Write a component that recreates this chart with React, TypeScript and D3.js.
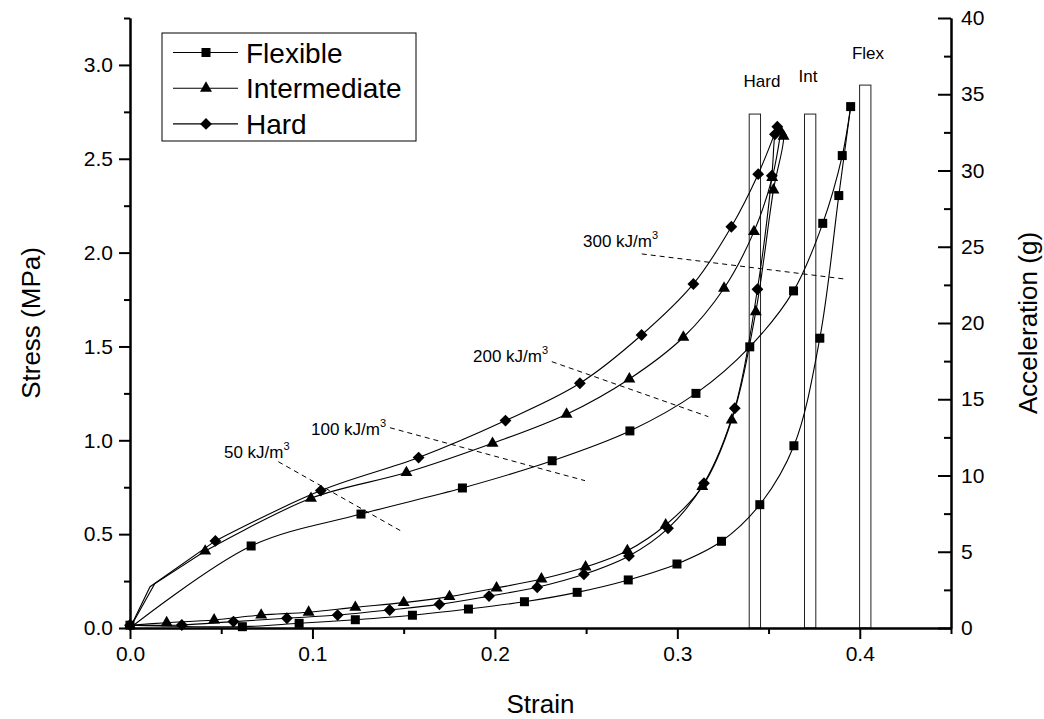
import React, { useEffect, useRef } from 'react';
import * as d3 from 'd3';

type Pt = [number, number];

// strain, stress (MPa). knee points are line vertices with no marker
const flexKnee: Pt[] = [[0, 0]];
const flexLoad: Pt[] = [
  [0.0664, 0.437], [0.1266, 0.607], [0.1822, 0.746], [0.2314, 0.891], [0.274, 1.05],
  [0.3102, 1.25], [0.3397, 1.498], [0.3637, 1.796], [0.3797, 2.156], [0.3904, 2.517], [0.395, 2.778],
];
const flexUnload: Pt[] = [
  [0.3885, 2.304], [0.3781, 1.544], [0.3639, 0.971], [0.3452, 0.657], [0.3242, 0.462],
  [0.2998, 0.341], [0.2731, 0.256], [0.2451, 0.19], [0.2162, 0.14], [0.1855, 0.101],
  [0.1548, 0.068], [0.1235, 0.044], [0.0927, 0.025], [0.0616, 0.007], [0, 0.015],
];

const intKnee: Pt[] = [[0, 0], [0.0135, 0.235]];
const intLoad: Pt[] = [
  [0.0412, 0.41], [0.0992, 0.691], [0.1515, 0.828], [0.1987, 0.984], [0.2393, 1.139],
  [0.2737, 1.327], [0.3033, 1.549], [0.3256, 1.81], [0.342, 2.112], [0.352, 2.4], [0.3567, 2.645],
];
const intUnload: Pt[] = [
  [0.3582, 2.62], [0.3527, 2.334], [0.343, 1.685], [0.3298, 1.108], [0.3137, 0.753],
  [0.2936, 0.549], [0.2726, 0.412], [0.2497, 0.325], [0.2255, 0.261], [0.2009, 0.213],
  [0.1751, 0.167], [0.15, 0.135], [0.1235, 0.11], [0.0979, 0.084], [0.0719, 0.069],
  [0.0461, 0.043], [0.0201, 0.028], [0, 0.015],
];

const hardKnee: Pt[] = [[0, 0], [0.011, 0.22]];
const hardLoad: Pt[] = [
  [0.0468, 0.464], [0.1046, 0.732], [0.1582, 0.908], [0.2058, 1.105], [0.2466, 1.304],
  [0.2804, 1.561], [0.3088, 1.833], [0.3296, 2.138], [0.3443, 2.418], [0.3548, 2.671],
];
const hardUnload: Pt[] = [
  [0.3535, 2.63], [0.3518, 2.41], [0.3439, 1.805], [0.3315, 1.171], [0.3146, 0.771],
  [0.2949, 0.531], [0.2735, 0.384], [0.2488, 0.286], [0.2232, 0.217], [0.1968, 0.17],
  [0.1696, 0.126], [0.1423, 0.096], [0.1138, 0.069], [0.086, 0.052], [0.0567, 0.034],
  [0.0284, 0.016], [0, 0.015],
];

const seriesNames = ['Flexible', 'Intermediate', 'Hard'];

// peak acceleration bars (g)
const peakLabels = ['Hard', 'Int', 'Flex'];
const peakStrain = [0.3425, 0.3728, 0.403];
const peakAccel = [33.7, 33.7, 35.6];
const peakLabelStrain = [0.3464, 0.3716, 0.4045];
const peakLabelAccel = [35.5, 35.8, 37.3];

// iso-energy guide lines
const energyLabels = ['50', '100', '200', '300'];
const energyFrom: Pt[] = [[0.0813, 0.886], [0.1425, 1.067], [0.2312, 1.419], [0.2805, 1.993]];
const energyTo: Pt[] = [[0.1498, 0.51], [0.2494, 0.785], [0.317, 1.126], [0.3928, 1.858]];
const energyLabelAt: Pt[] = [[0.0515, 0.906], [0.0992, 1.028], [0.188, 1.417], [0.2483, 2.03]];

const stressTicks = [0, 0.5, 1, 1.5, 2, 2.5, 3];
const stressMinor = [0.25, 0.75, 1.25, 1.75, 2.25, 2.75, 3.25];
const accelTicks = [0, 5, 10, 15, 20, 25, 30, 35, 40];
const accelMinor = [2.5, 7.5, 12.5, 17.5, 22.5, 27.5, 32.5, 37.5];
const strainTicks = [0, 0.1, 0.2, 0.3, 0.4];
const strainMinor = [0.05, 0.15, 0.25, 0.35, 0.45];

const W = 1044;
const H = 719;
const FONT = 'Arial, "Liberation Sans", sans-serif';

const App = () => {
  const svgRef = useRef<SVGSVGElement>(null);

  useEffect(() => {
    const svg = d3.select(svgRef.current);
    svg.selectAll('*').remove();

    const left = 130, right = 951, bottom = 628, top = 18;
    const x = d3.scaleLinear().domain([0, 0.45]).range([left, right]);
    const y = d3.scaleLinear().domain([0, 3.25]).range([bottom, top]);
    const y2 = d3.scaleLinear().domain([0, 40]).range([bottom, top]);

    // peak acceleration bars
    const barW = 0.0062;
    svg.append('g').selectAll('rect')
      .data(peakLabels)
      .join('rect')
      .attr('x', (d, i) => x(peakStrain[i] - barW / 2))
      .attr('width', x(barW) - x(0))
      .attr('y', (d, i) => y2(peakAccel[i]))
      .attr('height', (d, i) => y2(0) - y2(peakAccel[i]))
      .attr('fill', 'none')
      .attr('stroke', '#222')
      .attr('stroke-width', 1);

    svg.append('g').selectAll('text')
      .data(peakLabels)
      .join('text')
      .attr('x', (d, i) => x(peakLabelStrain[i]))
      .attr('y', (d, i) => y2(peakLabelAccel[i]))
      .attr('text-anchor', 'middle')
      .attr('font-family', FONT)
      .attr('font-size', 17)
      .text(d => d);

    // dashed energy lines
    const eg = svg.append('g');
    energyLabels.forEach((lab, i) => {
      eg.append('line')
        .attr('x1', x(energyFrom[i][0])).attr('y1', y(energyFrom[i][1]))
        .attr('x2', x(energyTo[i][0])).attr('y2', y(energyTo[i][1]))
        .attr('stroke', '#000').attr('stroke-width', 1)
        .attr('stroke-dasharray', '5,4');
      const t = eg.append('text')
        .attr('x', x(energyLabelAt[i][0]))
        .attr('y', y(energyLabelAt[i][1]))
        .attr('font-family', FONT)
        .attr('font-size', 17);
      t.append('tspan').text(`${lab} kJ/m`);
      t.append('tspan').attr('dy', -8).attr('font-size', 11).text('3');
    });

    // curves
    const line = d3.line<Pt>()
      .x(d => x(d[0]))
      .y(d => y(d[1]))
      .curve(d3.curveCatmullRom.alpha(0.5));
    const straight = d3.line<Pt>()
      .x(d => x(d[0]))
      .y(d => y(d[1]));

    const squareSym = d3.symbol().type(d3.symbolSquare).size(81)();
    const triSym = d3.symbol().type(d3.symbolTriangle).size(62)();
    const diamondSym = d3.symbol().type(d3.symbolSquare).size(70)();
    const symbols = [squareSym, triSym, diamondSym];
    const rotations = [0, 0, 45];

    const series = [
      { knee: flexKnee, load: flexLoad, unload: flexUnload },
      { knee: intKnee, load: intLoad, unload: intUnload },
      { knee: hardKnee, load: hardLoad, unload: hardUnload },
    ];

    const cg = svg.append('g');
    series.forEach((s, k) => {
      const peak = s.load[s.load.length - 1];
      const kneePath = s.knee.length > 1 ? [...s.knee, s.load[0]] : null;
      if (kneePath) {
        cg.append('path')
          .datum(kneePath)
          .attr('d', straight)
          .attr('fill', 'none').attr('stroke', '#000').attr('stroke-width', 1.1);
      }
      cg.append('path')
        .datum(kneePath ? s.load : [...s.knee, ...s.load])
        .attr('d', line)
        .attr('fill', 'none').attr('stroke', '#000').attr('stroke-width', 1.1);
      cg.append('path')
        .datum([peak, ...s.unload])
        .attr('d', line)
        .attr('fill', 'none').attr('stroke', '#000').attr('stroke-width', 1.1);
      cg.append('g').selectAll('path')
        .data([...s.load, ...s.unload])
        .join('path')
        .attr('d', symbols[k])
        .attr('transform', d => `translate(${x(d[0])},${y(d[1])}) rotate(${rotations[k]})`)
        .attr('fill', '#000');
    });

    // axes
    const styleAxis = (g: d3.Selection<SVGGElement, unknown, null, undefined>) => {
      g.selectAll('.domain').attr('stroke', '#000').attr('stroke-width', 2);
      g.selectAll('.tick line').attr('stroke', '#000').attr('stroke-width', 2);
      g.selectAll('text').attr('font-family', FONT).attr('font-size', 21).attr('fill', '#000');
    };

    const ax = svg.append('g').attr('transform', `translate(0,${bottom})`);
    ax.call(d3.axisBottom(x).tickValues(strainTicks).tickFormat(d3.format('.1f')).tickSize(11).tickSizeOuter(0).tickPadding(7));
    styleAxis(ax);
    const axm = svg.append('g').attr('transform', `translate(0,${bottom})`);
    axm.call(d3.axisBottom(x).tickValues(strainMinor).tickFormat(() => '').tickSize(6).tickSizeOuter(0));
    styleAxis(axm);

    const ay = svg.append('g').attr('transform', `translate(${left},0)`);
    ay.call(d3.axisLeft(y).tickValues(stressTicks).tickFormat(d3.format('.1f')).tickSize(11).tickSizeOuter(0).tickPadding(6));
    styleAxis(ay);
    const aym = svg.append('g').attr('transform', `translate(${left},0)`);
    aym.call(d3.axisLeft(y).tickValues(stressMinor).tickFormat(() => '').tickSize(6).tickSizeOuter(0));
    styleAxis(aym);

    const ar = svg.append('g').attr('transform', `translate(${right},0)`);
    ar.call(d3.axisRight(y2).tickValues(accelTicks).tickFormat(d3.format('d')).tickSize(-13).tickSizeOuter(0).tickPadding(10));
    styleAxis(ar);
    const arm = svg.append('g').attr('transform', `translate(${right},0)`);
    arm.call(d3.axisRight(y2).tickValues(accelMinor).tickFormat(() => '').tickSize(-7).tickSizeOuter(0));
    styleAxis(arm);

    // axis titles
    svg.append('text')
      .attr('x', (left + right) / 2).attr('y', 713)
      .attr('text-anchor', 'middle')
      .attr('font-family', FONT).attr('font-size', 26)
      .text('Strain');
    svg.append('text')
      .attr('transform', `translate(40,${(top + bottom) / 2}) rotate(-90)`)
      .attr('text-anchor', 'middle')
      .attr('font-family', FONT).attr('font-size', 26)
      .text('Stress (MPa)');
    svg.append('text')
      .attr('transform', `translate(1037,${(top + bottom) / 2}) rotate(-90)`)
      .attr('text-anchor', 'middle')
      .attr('font-family', FONT).attr('font-size', 26)
      .text('Acceleration (g)');

    // legend
    const lg = svg.append('g');
    lg.append('rect')
      .attr('x', 162).attr('y', 33).attr('width', 254).attr('height', 108)
      .attr('fill', '#fff').attr('stroke', '#000').attr('stroke-width', 1);
    seriesNames.forEach((name, i) => {
      const ry = 52.5 + i * 35.7;
      lg.append('line')
        .attr('x1', 173).attr('x2', 238).attr('y1', ry).attr('y2', ry)
        .attr('stroke', '#000').attr('stroke-width', 1.1);
      lg.append('path')
        .attr('d', symbols[i])
        .attr('transform', `translate(206,${ry}) rotate(${rotations[i]})`)
        .attr('fill', '#000');
      lg.append('text')
        .attr('x', 246).attr('y', ry + 10)
        .attr('font-family', FONT).attr('font-size', 28)
        .text(name);
    });
  }, []);

  return (
    <svg
      ref={svgRef}
      width={W}
      height={H}
      style={{ position: 'absolute', left: 0, top: 0, background: '#fff' }}
    />
  );
};

export default App;
